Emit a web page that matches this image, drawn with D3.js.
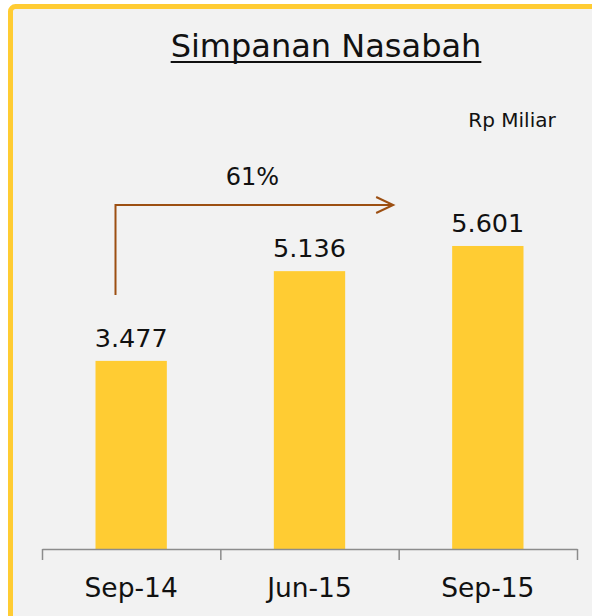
<!DOCTYPE html>
<html>
<head>
<meta charset="utf-8">
<script src="https://cdn.jsdelivr.net/npm/d3@7"></script>
<style>
  body { margin: 0; background: #fff; }
  svg { display: block; }
</style>
</head>
<body>
<div id="chart"></div>
<script>
const categories = ["Sep-14", "Jun-15", "Sep-15"]
const values = [3.477, 5.136, 5.601]
const valueLabels = ["3.477", "5.136", "5.601"]
const growthLabel = "61%"
const title = "Simpanan Nasabah"
const unitLabel = "Rp Miliar"

const W = 592, H = 616
const font = "'DejaVu Sans', sans-serif"
const yellow = "#ffcc33"
const brown = "#9c4f12"

const svg = d3.select("#chart").append("svg")
    .attr("width", W)
    .attr("height", H)

// panel with yellow frame (clipped on right/bottom)
svg.append("rect")
    .attr("x", 10.5).attr("y", 6.5)
    .attr("width", 640).attr("height", 660)
    .attr("rx", 5)
    .attr("fill", "#f2f2f2")
    .attr("stroke", yellow)
    .attr("stroke-width", 5)

const left = 42, right = 577, base = 549

const x = d3.scaleBand()
    .domain(categories)
    .range([left, right])
    .paddingInner(0.6)
    .paddingOuter(0.3)

const xb = d3.scaleLinear().domain([0, categories.length]).range([left, right])

const y = d3.scaleLinear()
    .domain([0, 6])
    .range([base, base - 6 * 54.1])

// title
const t = svg.append("text")
    .attr("x", 326).attr("y", 57)
    .attr("text-anchor", "middle")
    .attr("font-family", font)
    .attr("font-size", 32)
    .attr("fill", "#111")
    .text(title)
const tb = t.node().getBBox()
svg.append("line")
    .attr("x1", tb.x).attr("x2", tb.x + tb.width)
    .attr("y1", 62).attr("y2", 62)
    .attr("stroke", "#111").attr("stroke-width", 2)

svg.append("text")
    .attr("x", 512).attr("y", 127)
    .attr("text-anchor", "middle")
    .attr("font-family", font)
    .attr("font-size", 20)
    .attr("fill", "#111")
    .text(unitLabel)

// bars
svg.selectAll(".bar")
    .data(values)
    .enter().append("rect")
    .attr("class", "bar")
    .attr("x", (d, i) => x(categories[i]))
    .attr("width", x.bandwidth())
    .attr("y", d => y(d))
    .attr("height", d => y(0) - y(d))
    .attr("fill", yellow)

svg.selectAll(".val")
    .data(values)
    .enter().append("text")
    .attr("class", "val")
    .attr("x", (d, i) => x(categories[i]) + x.bandwidth() / 2)
    .attr("y", d => y(d) - 14)
    .attr("text-anchor", "middle")
    .attr("font-family", font)
    .attr("font-size", 25.5)
    .attr("fill", "#111")
    .text((d, i) => valueLabels[i])

// axis
const axis = svg.append("g")
    .attr("transform", `translate(0, ${base})`)
    .call(d3.axisBottom(xb).ticks(categories.length).tickFormat("").tickSize(11).tickSizeOuter(0))
axis.selectAll("path, line").attr("stroke", "#8c8c8c").attr("stroke-width", 1.5)

svg.selectAll(".cat")
    .data(categories)
    .enter().append("text")
    .attr("class", "cat")
    .attr("x", d => x(d) + x.bandwidth() / 2)
    .attr("y", 597)
    .attr("text-anchor", "middle")
    .attr("font-family", font)
    .attr("font-size", 26.5)
    .attr("fill", "#111")
    .text(d => d)

// growth arrow
const ax0 = x(categories[0]) + 20
const ax1 = x(categories[2]) - 59
const ay0 = y(values[0]) - 66
const ay1 = y(values[2]) - 41

svg.append("path")
    .attr("d", `M${ax0},${ay0} V${ay1} H${ax1}`)
    .attr("fill", "none")
    .attr("stroke", brown)
    .attr("stroke-width", 2)

svg.append("path")
    .attr("d", `M${ax1 - 17},${ay1 - 8} L${ax1},${ay1} L${ax1 - 17},${ay1 + 8}`)
    .attr("fill", "none")
    .attr("stroke", brown)
    .attr("stroke-width", 2)

svg.append("text")
    .attr("x", (ax0 + ax1) / 2 - 2)
    .attr("y", ay1 - 20)
    .attr("text-anchor", "middle")
    .attr("font-family", font)
    .attr("font-size", 24)
    .attr("fill", "#111")
    .text(growthLabel)
</script>
</body>
</html>
